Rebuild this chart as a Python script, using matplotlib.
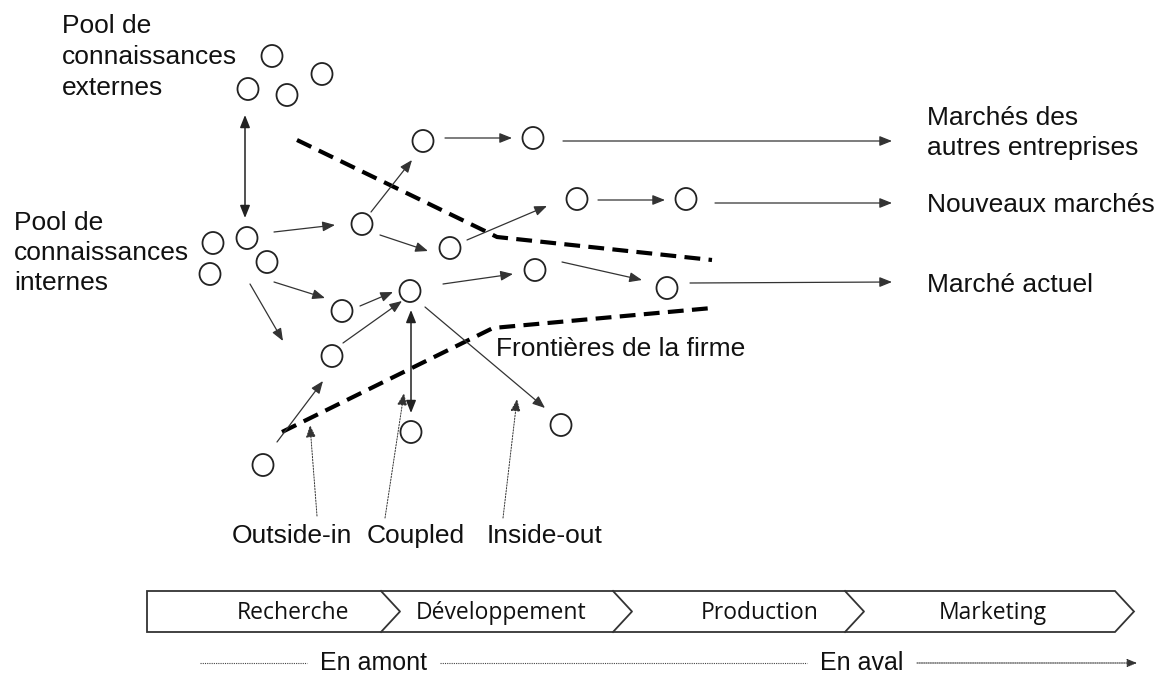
import matplotlib
matplotlib.use("Agg")
import matplotlib.pyplot as plt
from matplotlib.patches import Ellipse, Polygon

# knowledge nodes (pixel coords of the picture, y downwards)
node_x = [272, 322, 248, 287,                 # external pool
          213, 247, 267, 210,                 # internal pool
          362, 342, 410, 332, 263, 411, 561,
          423, 533, 577, 686, 450, 535, 667]
node_y = [56, 74, 89, 95,
          243, 238, 262, 274,
          224, 311, 291, 356, 465, 432, 425,
          141, 138, 199, 199, 248, 270, 288]

# plain arrows: (x0, y0, x1, y1)
arrows = [(274, 232, 335, 225), (274, 282, 325, 298), (250, 284, 283, 341),
          (360, 306, 393, 292), (343, 343, 402, 301), (277, 442, 323, 381),
          (425, 307, 545, 408), (443, 284, 513, 274), (371, 212, 412, 160),
          (380, 235, 428, 251), (467, 240, 547, 206), (445, 138, 512, 138),
          (598, 200, 665, 200), (562, 262, 642, 280),
          (563, 141, 892, 141), (715, 203, 892, 203), (690, 283, 892, 282)]
double_arrows = [(245, 115, 245, 218), (411, 310, 411, 413)]
dotted_arrows = [(317, 516, 310, 425), (385, 518, 404, 393), (503, 518, 517, 399)]

# firm boundary (dashed)
upper_x = [297, 487, 497, 712]
upper_y = [140, 232, 237, 260]
lower_x = [282, 493, 712]
lower_y = [432, 328, 308]

# labels: (text, x, baseline y)
labels = [("Pool de", 62, 33), ("connaissances", 62, 64), ("externes", 62, 95),
          ("Pool de", 14, 230), ("connaissances", 14, 260), ("internes", 14, 290),
          ("Marchés des", 927, 125), ("autres entreprises", 927, 155),
          ("Nouveaux marchés", 927, 212), ("Marché actuel", 927, 292),
          ("Frontières de la firme", 496, 356),
          ("Outside-in", 232, 543), ("Coupled", 367, 543), ("Inside-out", 487, 543)]

# value chain bar
stages = ["Recherche", "Développement", "Production", "Marketing"]
stage_centers = [293, 501, 760, 993]
stage_edges = [147, 381, 613, 845, 1115]
bar_top, bar_bottom, tip = 591, 632, 19

fig = plt.figure(figsize=(11.61, 6.77), dpi=100)
ax = fig.add_axes([0, 0, 1, 1])
ax.set_xlim(0, 1161)
ax.set_ylim(677, 0)
ax.axis("off")

for x, y in zip(node_x, node_y):
    ax.add_patch(Ellipse((x, y), 21, 22, fill=False, lw=1.3, ec="#222222"))

head = "-|>,head_length=0.75,head_width=0.3"
for x0, y0, x1, y1 in arrows:
    ax.annotate("", xy=(x1, y1), xytext=(x0, y0),
                arrowprops=dict(arrowstyle=head, color="#333333", lw=0.9,
                                shrinkA=0, shrinkB=0))
for x0, y0, x1, y1 in double_arrows:
    ax.annotate("", xy=(x1, y1), xytext=(x0, y0),
                arrowprops=dict(arrowstyle="<|-|>,head_length=0.75,head_width=0.3",
                                color="#222222", lw=1.1, shrinkA=0, shrinkB=0))
for x0, y0, x1, y1 in dotted_arrows:
    ax.annotate("", xy=(x1, y1), xytext=(x0, y0),
                arrowprops=dict(arrowstyle=head, color="#333333", lw=0.7,
                                linestyle=(0, (1.5, 1.5)), shrinkA=0, shrinkB=0))

for bx, by in [(upper_x, upper_y), (lower_x, lower_y)]:
    ax.plot(bx, by, color="black", lw=3, dashes=(3.8, 2.0), solid_capstyle="butt")

for txt, x, y in labels:
    ax.text(x, y, txt, fontsize=19, family="Liberation Sans",
            ha="left", va="baseline", color="#111111")

# chevron bar
mid = (bar_top + bar_bottom) / 2
outline = [(stage_edges[0], bar_top), (stage_edges[-1], bar_top),
           (stage_edges[-1] + tip, mid), (stage_edges[-1], bar_bottom),
           (stage_edges[0], bar_bottom)]
ax.add_patch(Polygon(outline, closed=True, fill=False, ec="#333333", lw=1.3))
for e in stage_edges[1:-1]:
    ax.plot([e, e + tip, e], [bar_top, mid, bar_bottom], color="#333333", lw=1.3)
for name, cx in zip(stages, stage_centers):
    ax.text(cx, 619, name, fontsize=16.5, family="Open Sans", ha="center",
            va="baseline", color="#111111")

# upstream / downstream line
ax.plot([200, 307], [663, 663], color="#444444", lw=0.8, linestyle=(0, (1, 1)))
ax.plot([440, 807], [663, 663], color="#444444", lw=0.8, linestyle=(0, (1, 1)))
ax.annotate("", xy=(1137, 663), xytext=(917, 663),
            arrowprops=dict(arrowstyle="-|>,head_length=0.6,head_width=0.25",
                            color="#333333", lw=0.8, linestyle=(0, (1, 1)),
                            shrinkA=0, shrinkB=0))
ax.text(320, 670, "En amont", fontsize=18, family="Liberation Sans",
        ha="left", va="baseline", color="#111111")
ax.text(820, 670, "En aval", fontsize=18, family="Liberation Sans",
        ha="left", va="baseline", color="#111111")

fig.savefig("out.png", dpi=100, facecolor="white")
